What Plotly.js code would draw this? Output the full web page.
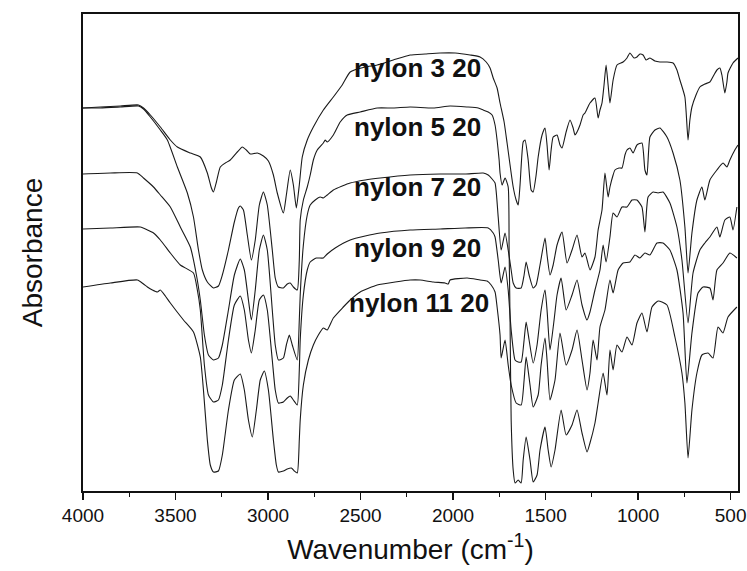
<!DOCTYPE html>
<html>
<head>
<meta charset="utf-8">
<script src="https://cdn.plot.ly/plotly-3.0.1.min.js"></script>
<style>html,body{margin:0;padding:0;background:#fff;}#chart{width:747px;height:571px;}</style>
</head>
<body>
<div id="chart"></div>
<script>
// Spectra: [wavenumber (cm-1), absorbance (a.u., offset)]
var nylon3 = [[4000,3.83],[3906,3.84],[3798,3.85],[3700,3.86],[3673,3.83],[3636,3.76],[3582,3.64],[3528,3.51],[3490,3.44],[3420,3.38],[3366,3.34],[3328,3.18],[3306,3.03],[3295,2.99],[3279,3.09],[3258,3.24],[3231,3.28],[3204,3.31],[3166,3.39],[3139,3.44],[3117,3.41],[3096,3.37],[3058,3.38],[3025,3.35],[2998,3.30],[2971,3.16],[2950,2.98],[2917,2.78],[2901,2.96],[2880,3.21],[2863,3.06],[2847,2.83],[2831,3.06],[2815,3.34],[2788,3.51],[2755,3.64],[2701,3.81],[2647,3.94],[2599,4.06],[2556,4.19],[2475,4.24],[2410,4.26],[2323,4.31],[2232,4.36],[2151,4.37],[2070,4.38],[1989,4.38],[1908,4.36],[1854,4.34],[1821,4.29],[1800,4.23],[1783,4.13],[1762,4.03],[1746,3.88],[1724,3.69],[1708,3.48],[1692,3.26],[1675,3.04],[1659,2.91],[1648,2.86],[1638,3.06],[1621,3.49],[1611,3.51],[1594,3.31],[1578,3.01],[1567,2.99],[1551,3.16],[1540,3.34],[1519,3.56],[1503,3.63],[1492,3.46],[1481,3.21],[1470,3.41],[1459,3.54],[1438,3.56],[1422,3.46],[1411,3.43],[1389,3.59],[1368,3.71],[1351,3.63],[1341,3.56],[1330,3.59],[1314,3.66],[1297,3.76],[1287,3.78],[1260,3.88],[1233,3.93],[1216,3.73],[1206,3.81],[1195,3.88],[1184,4.06],[1173,4.26],[1162,4.06],[1152,3.88],[1135,4.11],[1114,4.26],[1081,4.29],[1060,4.33],[1044,4.38],[1022,4.33],[1006,4.34],[990,4.37],[973,4.36],[957,4.31],[936,4.33],[909,4.30],[882,4.29],[844,4.29],[811,4.28],[790,4.21],[774,4.11],[747,3.94],[730,3.51],[720,3.71],[709,3.84],[687,3.96],[666,4.04],[639,4.07],[612,4.09],[590,4.16],[574,4.21],[558,4.23],[547,4.16],[531,3.98],[520,4.09],[514,4.18],[487,4.28],[460,4.33]];

var nylon5 = [[4000,3.83],[3906,3.83],[3798,3.84],[3700,3.85],[3673,3.82],[3636,3.74],[3582,3.61],[3544,3.51],[3490,3.24],[3436,2.98],[3403,2.74],[3376,2.41],[3355,2.21],[3328,2.09],[3295,2.03],[3268,2.05],[3247,2.16],[3214,2.41],[3182,2.69],[3160,2.83],[3150,2.85],[3133,2.81],[3112,2.56],[3090,2.31],[3069,2.51],[3047,2.86],[3025,2.99],[3004,2.86],[2977,2.41],[2961,2.13],[2944,2.04],[2917,2.03],[2896,2.07],[2880,2.08],[2863,2.04],[2842,2.01],[2831,2.31],[2826,2.71],[2809,2.91],[2788,3.04],[2772,3.16],[2755,3.31],[2734,3.41],[2701,3.48],[2691,3.51],[2680,3.49],[2647,3.56],[2610,3.69],[2572,3.76],[2502,3.79],[2410,3.83],[2323,3.83],[2232,3.84],[2107,3.83],[2016,3.85],[1924,3.84],[1864,3.83],[1837,3.81],[1810,3.79],[1789,3.76],[1773,3.66],[1762,3.51],[1751,3.31],[1746,3.18],[1735,3.06],[1719,3.13],[1702,3.04],[1697,2.41],[1692,1.71],[1686,0.71],[1675,0.21],[1665,0.08],[1648,0.11],[1632,0.08],[1621,0.31],[1605,0.54],[1584,0.31],[1567,0.09],[1546,0.16],[1530,0.41],[1503,0.64],[1486,0.41],[1470,0.24],[1449,0.41],[1416,0.81],[1389,0.56],[1357,0.66],[1330,0.81],[1303,0.58],[1276,0.39],[1260,0.48],[1233,0.68],[1216,0.88],[1189,1.18],[1168,0.96],[1152,1.41],[1135,1.21],[1114,1.46],[1087,1.39],[1060,1.54],[1033,1.46],[1006,1.68],[979,1.78],[952,1.59],[925,1.84],[892,1.90],[844,1.86],[801,1.54],[763,1.18],[747,0.88],[730,0.33],[709,0.81],[682,1.18],[655,1.36],[622,1.38],[595,1.33],[568,1.64],[541,1.58],[514,1.74],[466,1.84]];

var nylon7 = [[4000,3.17],[3852,3.18],[3706,3.18],[3673,3.13],[3619,3.04],[3582,2.96],[3528,2.84],[3474,2.64],[3420,2.44],[3387,2.16],[3366,1.91],[3344,1.56],[3322,1.36],[3295,1.31],[3268,1.33],[3247,1.46],[3214,1.81],[3182,2.16],[3150,2.32],[3128,2.21],[3106,1.91],[3090,1.71],[3069,2.01],[3047,2.41],[3025,2.56],[3004,2.41],[2977,1.81],[2961,1.46],[2944,1.31],[2917,1.33],[2901,1.46],[2885,1.56],[2869,1.46],[2842,1.31],[2831,1.71],[2826,1.96],[2809,2.46],[2788,2.76],[2772,2.86],[2745,2.91],[2718,2.94],[2701,2.93],[2680,2.96],[2647,3.01],[2599,3.05],[2556,3.08],[2475,3.11],[2394,3.13],[2232,3.16],[2070,3.17],[1935,3.17],[1837,3.18],[1810,3.16],[1789,3.12],[1773,3.08],[1756,2.74],[1740,2.41],[1719,2.58],[1702,2.41],[1686,2.21],[1675,2.08],[1659,2.03],[1632,2.03],[1616,2.16],[1605,2.29],[1589,2.16],[1567,2.03],[1551,2.06],[1530,2.26],[1503,2.53],[1492,2.36],[1476,2.16],[1459,2.26],[1438,2.46],[1411,2.59],[1384,2.28],[1357,2.41],[1330,2.56],[1303,2.34],[1287,2.38],[1260,2.21],[1233,2.34],[1216,2.61],[1195,2.81],[1179,3.18],[1162,2.94],[1152,3.04],[1135,3.16],[1125,3.21],[1103,3.23],[1087,3.23],[1071,3.36],[1060,3.41],[1044,3.43],[1027,3.38],[1006,3.46],[979,3.48],[963,3.21],[952,3.16],[936,3.54],[909,3.61],[882,3.63],[844,3.54],[811,3.38],[774,3.11],[747,2.64],[730,2.18],[709,2.58],[682,2.91],[655,3.04],[639,2.91],[612,3.11],[574,3.21],[541,3.28],[520,3.24],[504,3.31],[477,3.41],[460,3.46]];

var nylon9 = [[4000,2.62],[3852,2.63],[3690,2.64],[3652,2.61],[3619,2.58],[3582,2.51],[3528,2.38],[3474,2.26],[3403,2.18],[3382,2.01],[3366,1.81],[3344,1.26],[3322,0.96],[3295,0.89],[3268,0.91],[3247,1.06],[3214,1.51],[3182,1.86],[3150,1.95],[3128,1.81],[3106,1.51],[3090,1.38],[3069,1.61],[3047,1.91],[3025,1.96],[3004,1.81],[2977,1.31],[2961,1.01],[2944,0.88],[2917,0.89],[2896,0.93],[2880,0.95],[2863,0.91],[2842,0.86],[2831,1.21],[2826,1.51],[2809,1.96],[2788,2.21],[2772,2.29],[2739,2.33],[2701,2.33],[2680,2.37],[2637,2.43],[2556,2.51],[2475,2.55],[2394,2.58],[2232,2.61],[2070,2.62],[1935,2.63],[1810,2.63],[1783,2.58],[1773,2.54],[1756,2.31],[1740,2.08],[1719,2.24],[1702,2.01],[1686,1.61],[1665,1.31],[1648,1.29],[1632,1.29],[1616,1.51],[1605,1.69],[1589,1.51],[1567,1.28],[1546,1.46],[1524,1.81],[1503,2.01],[1492,1.81],[1476,1.41],[1454,1.71],[1438,1.96],[1416,2.13],[1389,1.81],[1357,1.96],[1330,2.11],[1303,1.86],[1276,1.71],[1260,1.79],[1233,2.01],[1206,2.21],[1189,2.46],[1173,2.29],[1152,2.54],[1135,2.78],[1114,2.74],[1087,2.84],[1060,2.84],[1033,2.91],[1006,2.91],[979,2.84],[963,2.59],[946,2.94],[919,2.99],[892,2.98],[865,2.99],[828,2.88],[790,2.64],[763,2.31],[730,1.68],[703,2.18],[666,2.41],[639,2.48],[612,2.54],[574,2.64],[558,2.54],[531,2.71],[504,2.74],[487,2.61],[466,2.84]];

var nylon11 = [[4000,2.04],[3852,2.08],[3706,2.11],[3673,2.07],[3652,2.04],[3625,2.01],[3598,1.99],[3582,2.01],[3555,1.95],[3528,1.88],[3457,1.71],[3403,1.59],[3366,1.34],[3349,1.01],[3328,0.51],[3312,0.26],[3295,0.19],[3268,0.20],[3247,0.36],[3214,0.81],[3182,1.11],[3150,1.17],[3128,1.01],[3106,0.71],[3085,0.54],[3063,0.81],[3042,1.11],[3020,1.20],[2998,1.01],[2971,0.51],[2955,0.26],[2944,0.19],[2917,0.20],[2896,0.22],[2874,0.23],[2858,0.20],[2842,0.18],[2831,0.51],[2826,0.71],[2809,1.06],[2782,1.31],[2755,1.46],[2728,1.56],[2701,1.63],[2680,1.61],[2647,1.73],[2593,1.84],[2556,1.91],[2502,1.99],[2410,2.06],[2313,2.09],[2232,2.11],[2178,2.11],[2107,2.09],[2043,2.08],[2026,2.07],[2016,2.11],[1924,2.13],[1854,2.11],[1816,2.10],[1794,2.06],[1773,1.99],[1762,1.84],[1746,1.56],[1740,1.33],[1719,1.51],[1702,1.26],[1686,1.06],[1659,0.88],[1632,0.86],[1616,1.11],[1605,1.34],[1584,1.06],[1567,0.84],[1540,0.96],[1524,1.26],[1503,1.53],[1492,1.31],[1476,0.91],[1449,1.11],[1422,1.58],[1389,1.26],[1357,1.41],[1330,1.61],[1303,1.31],[1276,1.01],[1260,1.18],[1243,1.51],[1222,1.31],[1206,1.64],[1179,1.81],[1152,2.11],[1135,1.98],[1108,2.21],[1081,2.28],[1044,2.29],[1017,2.36],[990,2.33],[963,2.38],[936,2.36],[898,2.48],[865,2.48],[828,2.41],[790,2.21],[757,1.78],[736,1.08],[709,1.58],[676,1.98],[649,2.04],[612,2.03],[595,1.91],[574,2.21],[541,2.28],[504,2.38],[466,2.33]];

var seriesNames = ["nylon 3 20","nylon 5 20","nylon 7 20","nylon 9 20","nylon 11 20"];
var seriesData = [nylon3, nylon5, nylon7, nylon9, nylon11];
var labelX = [2545, 2545, 2545, 2545, 2572];
var labelY = [4.23, 3.64, 3.04, 2.43, 1.88];
var xTicks = [4000, 3500, 3000, 2500, 2000, 1500, 1000, 500];

var FONT = "Liberation Sans, Arial, Helvetica, sans-serif";
var traces = seriesData.map(function(d, i){
  return {
    x: d.map(function(p){return p[0];}),
    y: d.map(function(p){return p[1];}),
    name: seriesNames[i],
    mode: "lines",
    line: {color: "#1a1a1a", width: 1.1, shape: "spline", smoothing: 0.5},
    hoverinfo: "skip"
  };
});

var annotations = seriesNames.map(function(n, i){
  return {
    text: n, x: labelX[i], y: labelY[i], xref: "x", yref: "y",
    xanchor: "left", yanchor: "middle", showarrow: false,
    font: {family: FONT, size: 26, color: "#111", weight: "bold"}
  };
});

var layout = {
  width: 747, height: 571,
  margin: {l: 83, r: 9, t: 14, b: 80},
  paper_bgcolor: "#fff", plot_bgcolor: "#fff",
  showlegend: false,
  font: {family: FONT, color: "#111"},
  xaxis: {
    range: [4000, 460],
    tickvals: xTicks,
    ticks: "outside", ticklen: 7, tickwidth: 1.5, tickcolor: "#111",
    minor: {dtick: 250, tick0: 500, ticks: "outside", ticklen: 4, tickwidth: 1.2, tickcolor: "#111"},
    showgrid: false, zeroline: false,
    showline: true, linecolor: "#111", linewidth: 1.6, mirror: true,
    tickfont: {family: FONT, size: 19, color: "#111"},
    title: {text: "Wavenumber (cm<sup>-1</sup>)", font: {family: FONT, size: 28, color: "#111"}, standoff: 14}
  },
  yaxis: {
    range: [0, 4.77],
    showticklabels: false, ticks: "",
    showgrid: false, zeroline: false,
    showline: true, linecolor: "#111", linewidth: 1.6, mirror: true,
    title: {text: "Absorbance", font: {family: FONT, size: 28, color: "#111"}, standoff: 30}
  },
  annotations: annotations
};

Plotly.newPlot("chart", traces, layout, {staticPlot: true, displayModeBar: false});
</script>
</body>
</html>
